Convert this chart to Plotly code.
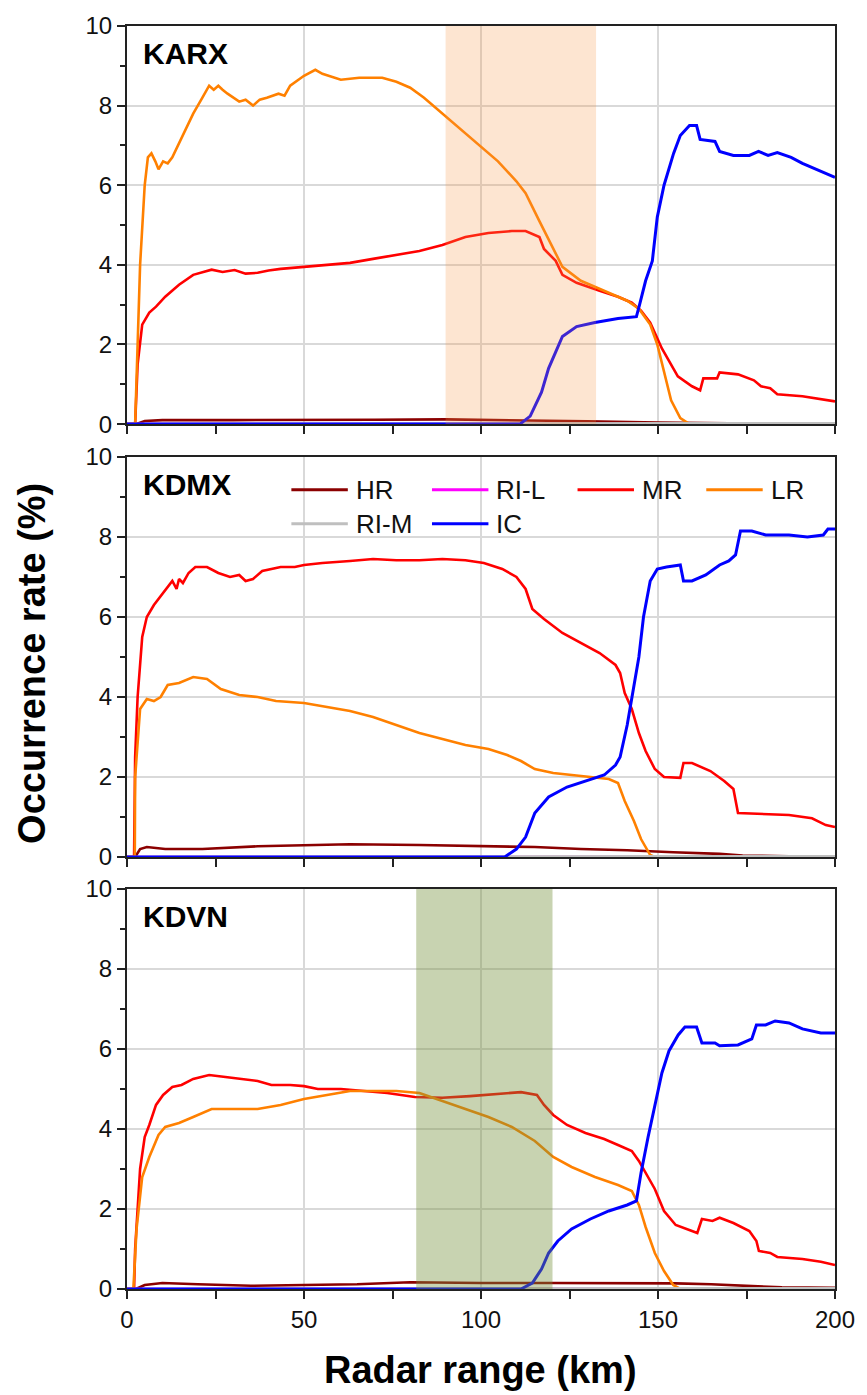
import plotly.graph_objects as go
from plotly.subplots import make_subplots

# ---------------- data: occurrence rate (%) vs radar range (km) ----------------
STATIONS = ["KARX", "KDMX", "KDVN"]

# KARX
KARX_HR_X = [0, 2.5, 5, 10, 30, 50, 70, 90, 110, 130, 150, 170, 200]
KARX_HR_Y = [0, 0, 0.08, 0.1, 0.1, 0.1, 0.11, 0.12, 0.1, 0.07, 0.04, 0.02, 0.01]
KARX_MR_X = [0, 2.3, 3.0, 4.3, 6.3, 8.2, 10.8, 14.7, 18.7, 21.0, 23.9, 27.0, 30.4, 33.5, 36.9, 40.0,
             43.4, 50.0, 56.5, 63.0, 69.5, 76.0, 82.6, 89.1, 95.6, 102.1, 108.7, 112.6, 116.5,
             117.8, 121.1, 123.0, 127.0, 133.5, 138.7, 142.6, 145.2, 147.8, 151.1, 155.6, 159.6,
             161.9, 162.8, 166.7, 167.4, 172.6, 177.1, 179.1, 181.7, 183.7, 190.8, 200]
KARX_MR_Y = [0, 0, 1.5, 2.5, 2.8, 2.95, 3.2, 3.5, 3.75, 3.8, 3.88, 3.82, 3.87, 3.78, 3.8, 3.86,
             3.9, 3.95, 4.0, 4.05, 4.15, 4.25, 4.35, 4.5, 4.7, 4.8, 4.85, 4.85, 4.7,
             4.4, 4.1, 3.75, 3.55, 3.35, 3.2, 3.05, 2.85, 2.55, 1.9, 1.2, 0.95,
             0.85, 1.15, 1.15, 1.3, 1.25, 1.1, 0.95, 0.9, 0.75, 0.7, 0.57]
KARX_LR_X = [0, 2.3, 3.7, 5.0, 5.9, 6.9, 8.0, 8.9, 10.2, 11.5, 12.8, 15.4, 18.7, 21.3, 23.2, 24.5,
             25.8, 27.0, 28.4, 31.7, 33.5, 35.6, 37.5, 39.5, 42.8, 44.5, 46.1, 50.0, 53.2, 55.2,
             60.4, 65.6, 72.1, 76.1, 80.0, 83.9, 89.1, 94.3, 99.5, 104.8, 110.0, 112.6, 116.5,
             120.4, 123.0, 128.2, 134.8, 141.3, 144.6, 147.8, 149.8, 151.7, 153.7, 156.3, 158.9, 200]
KARX_LR_Y = [0, 0, 4.0, 6.0, 6.7, 6.8, 6.6, 6.4, 6.6, 6.55, 6.7, 7.2, 7.8, 8.2, 8.5, 8.4,
             8.5, 8.4, 8.3, 8.1, 8.15, 8.0, 8.15, 8.2, 8.3, 8.25, 8.5, 8.75, 8.9, 8.8,
             8.65, 8.7, 8.7, 8.6, 8.45, 8.2, 7.8, 7.4, 7.0, 6.6, 6.1, 5.8, 5.1,
             4.4, 3.95, 3.6, 3.35, 3.1, 2.9, 2.5, 2.0, 1.3, 0.6, 0.15, 0, 0]
KARX_IC_X = [0, 111.0, 113.9, 117.1, 119.1, 121.1, 123.0, 127.0, 132.2, 138.7, 143.9, 144.8, 146.5,
             148.4, 149.8, 151.7, 154.4, 156.3, 158.9, 160.9, 161.9, 166.1, 167.4, 171.3, 175.8,
             178.4, 181.1, 183.7, 187.6, 190.8, 196.0, 200]
KARX_IC_Y = [0, 0, 0.2, 0.8, 1.4, 1.8, 2.2, 2.45, 2.55, 2.65, 2.7, 3.0, 3.6,
             4.1, 5.2, 6.0, 6.8, 7.25, 7.5, 7.5, 7.15, 7.1, 6.85, 6.75, 6.75,
             6.85, 6.75, 6.82, 6.7, 6.55, 6.35, 6.2]

# KDMX
KDMX_HR_X = [0, 2.3, 3.7, 5.6, 10.8, 21.3, 36.9, 50, 63, 82.6, 102.1, 115.2, 128.2, 141.3, 154.3,
             167.4, 173.9, 187, 200]
KDMX_HR_Y = [0, 0, 0.2, 0.25, 0.2, 0.2, 0.27, 0.3, 0.32, 0.3, 0.27, 0.25, 0.2, 0.17, 0.12,
             0.08, 0.04, 0.02, 0.02]
KDMX_MR_X = [0, 2.0, 2.3, 3.0, 4.3, 5.6, 7.6, 10.2, 12.8, 14.0, 14.7, 15.8, 17.4, 19.3, 22.6, 25.8,
             29.1, 31.7, 33.5, 35.6, 38.2, 43.4, 47.4, 50.0, 55.2, 63.0, 69.5, 76.1, 82.6, 89.1,
             95.6, 100.8, 106.0, 110.0, 112.6, 114.5, 117.8, 123.0, 128.2, 133.5, 138.0, 139.3,
             140.6, 142.6, 144.6, 146.5, 149.1, 151.7, 156.3, 157.2, 159.6, 164.8, 168.7, 171.3,
             172.6, 180.4, 187.0, 193.5, 197.4, 200]
KDMX_MR_Y = [0, 0, 2.5, 4.0, 5.5, 6.0, 6.3, 6.6, 6.9, 6.7, 6.95, 6.85, 7.1, 7.25, 7.25, 7.1,
             7.0, 7.05, 6.9, 6.95, 7.15, 7.25, 7.25, 7.3, 7.35, 7.4, 7.45, 7.42, 7.42, 7.45,
             7.42, 7.35, 7.2, 7.0, 6.7, 6.2, 5.95, 5.6, 5.35, 5.1, 4.8, 4.6,
             4.1, 3.7, 3.1, 2.65, 2.2, 2.0, 1.98, 2.35, 2.35, 2.15, 1.9, 1.7,
             1.1, 1.07, 1.05, 0.97, 0.8, 0.75]
KDMX_LR_X = [0, 2.2, 2.3, 3.7, 5.6, 7.6, 9.5, 11.5, 14.7, 18.7, 22.6, 26.5, 31.7, 36.9, 42.1, 50.0,
             56.5, 63.0, 69.5, 76.1, 82.6, 89.1, 95.6, 102.1, 107.4, 111.3, 115.2, 120.4, 125.6,
             130.9, 136.1, 138.7, 140.6, 143.2, 145.2, 147.8, 149.1, 200]
KDMX_LR_Y = [0, 0, 2.0, 3.7, 3.95, 3.9, 4.0, 4.3, 4.35, 4.5, 4.45, 4.2, 4.05, 4.0, 3.9, 3.85,
             3.75, 3.65, 3.5, 3.3, 3.1, 2.95, 2.8, 2.7, 2.55, 2.4, 2.2, 2.1, 2.05,
             2.0, 1.95, 1.85, 1.4, 0.9, 0.45, 0.05, 0, 0]
KDMX_IC_X = [0, 106.7, 110.0, 112.6, 115.2, 119.1, 124.3, 129.5, 134.8, 138.0, 139.3, 141.3, 142.6,
             144.6, 145.9, 147.8, 149.8, 152.4, 156.3, 157.2, 159.6, 163.5, 167.4, 170.0, 171.9,
             173.3, 176.5, 180.4, 187.0, 192.2, 196.7, 198.0, 200]
KDMX_IC_Y = [0, 0, 0.2, 0.5, 1.1, 1.5, 1.75, 1.9, 2.05, 2.3, 2.5, 3.3, 4.0,
             5.0, 6.0, 6.9, 7.2, 7.25, 7.3, 6.9, 6.9, 7.05, 7.3, 7.4, 7.55,
             8.15, 8.15, 8.05, 8.05, 8.0, 8.05, 8.2, 8.2]

# KDVN
KDVN_HR_X = [0, 2.5, 5, 10, 20, 35, 50, 65, 80, 100, 120, 140, 155, 165, 175, 185, 200]
KDVN_HR_Y = [0, 0, 0.1, 0.15, 0.12, 0.08, 0.1, 0.12, 0.17, 0.15, 0.15, 0.15, 0.14, 0.12, 0.08, 0.04, 0.03]
KDVN_MR_X = [0, 2.0, 2.3, 3.7, 5.0, 6.3, 8.2, 10.2, 12.8, 15.4, 18.7, 23.2, 27.8, 31.7, 36.9, 40.8,
             46.1, 50.0, 53.9, 60.4, 66.9, 73.5, 81.3, 89.1, 96.9, 104.8, 111.3, 115.8, 117.8,
             120.4, 124.3, 129.5, 134.8, 138.7, 142.6, 144.6, 146.5, 149.1, 151.7, 155.0, 159.6,
             161.1, 162.4, 165.4, 167.4, 171.3, 175.8, 177.8, 178.5, 181.7, 183.7, 190.8, 196.0, 200]
KDVN_MR_Y = [0, 0, 1.0, 3.0, 3.8, 4.1, 4.6, 4.85, 5.05, 5.1, 5.25, 5.35, 5.3, 5.25, 5.2, 5.1,
             5.1, 5.07, 5.0, 5.0, 4.95, 4.9, 4.8, 4.78, 4.82, 4.87, 4.92, 4.85, 4.6,
             4.35, 4.1, 3.9, 3.75, 3.6, 3.45, 3.2, 2.9, 2.5, 1.95, 1.6, 1.45,
             1.4, 1.75, 1.7, 1.78, 1.65, 1.45, 1.2, 0.95, 0.9, 0.8, 0.75, 0.68, 0.6]
KDVN_LR_X = [0, 1.8, 2.7, 4.3, 6.3, 8.9, 10.8, 14.7, 18.7, 23.9, 30.4, 36.9, 43.4, 50.0, 56.5,
             63.0, 69.5, 76.1, 82.6, 89.1, 95.6, 102.1, 108.7, 115.2, 120.4, 125.6, 132.2, 138.7,
             142.6, 144.6, 146.5, 149.1, 151.7, 154.3, 156.3, 200]
KDVN_LR_Y = [0, 0, 1.5, 2.8, 3.3, 3.85, 4.05, 4.15, 4.3, 4.5, 4.5, 4.5, 4.6, 4.75, 4.85,
             4.95, 4.95, 4.95, 4.9, 4.7, 4.5, 4.3, 4.05, 3.7, 3.3, 3.05, 2.8, 2.6,
             2.45, 2.1, 1.55, 0.9, 0.45, 0.1, 0, 0]
KDVN_IC_X = [0, 111.3, 114.5, 117.1, 119.1, 121.7, 125.6, 130.9, 136.1, 141.3, 143.9, 145.2, 147.2,
             149.1, 151.1, 153.1, 155.7, 157.6, 160.9, 162.4, 166.1, 167.4, 172.6, 176.5, 177.8,
             180.4, 183.1, 187.0, 190.8, 196.0, 200]
KDVN_IC_Y = [0, 0, 0.15, 0.5, 0.9, 1.2, 1.5, 1.75, 1.95, 2.1, 2.2, 2.9, 3.8,
             4.6, 5.4, 5.95, 6.35, 6.55, 6.55, 6.15, 6.15, 6.08, 6.1, 6.25, 6.6,
             6.6, 6.7, 6.65, 6.5, 6.4, 6.4]

# rain-on-ice classes stay near zero at every station
RI_X = [0, 50, 100, 150, 200]
RI_L_Y = [0, 0.005, 0.005, 0.005, 0.005]
RI_M_Y = [0, 0.01, 0.01, 0.02, 0.02]

SERIES = {
    "KARX": {"HR": (KARX_HR_X, KARX_HR_Y), "MR": (KARX_MR_X, KARX_MR_Y),
             "LR": (KARX_LR_X, KARX_LR_Y), "IC": (KARX_IC_X, KARX_IC_Y)},
    "KDMX": {"HR": (KDMX_HR_X, KDMX_HR_Y), "MR": (KDMX_MR_X, KDMX_MR_Y),
             "LR": (KDMX_LR_X, KDMX_LR_Y), "IC": (KDMX_IC_X, KDMX_IC_Y)},
    "KDVN": {"HR": (KDVN_HR_X, KDVN_HR_Y), "MR": (KDVN_MR_X, KDVN_MR_Y),
             "LR": (KDVN_LR_X, KDVN_LR_Y), "IC": (KDVN_IC_X, KDVN_IC_Y)},
}

# highlighted range bands (km)
BANDS = {"KARX": (90.0, 132.5, "rgba(247,150,70,0.25)"),
         "KDVN": (81.7, 120.2, "rgba(118,146,60,0.40)")}

COLORS = {"HR": "#8B0000", "RI-L": "#FF00FF", "MR": "#FF0000", "LR": "#FF8000",
          "RI-M": "#BFBFBF", "IC": "#0000FF"}

# ---------------- layout geometry ----------------
W, H = 867, 1395
L, R, T, B = 127, 25, 20, 106
PLOT_W = W - L - R
PLOT_H = H - T - B


def px_x(px):
    return (px - L) / PLOT_W


def px_y(py):
    return (H - B - py) / PLOT_H


FONT = "Liberation Sans, Arial, sans-serif"

fig = make_subplots(rows=3, cols=1, shared_xaxes=False, vertical_spacing=0.025)

# panel extents in pixel rows (top, bottom)
panel_px = [(20, 420), (453, 855), (887, 1289)]

for i, st in enumerate(STATIONS, start=1):
    data = SERIES[st]
    for cls in ["HR", "RI-L", "MR", "LR", "RI-M", "IC"]:
        if cls == "RI-L":
            xs, ys = RI_X, RI_L_Y
        elif cls == "RI-M":
            xs, ys = RI_X, RI_M_Y
        else:
            xs, ys = data[cls]
        fig.add_trace(go.Scatter(x=xs, y=ys, mode="lines", name=cls, showlegend=False,
                                 line=dict(color=COLORS[cls], width=2.6 if cls != "IC" else 3.0)),
                      row=i, col=1)
    if st in BANDS:
        x0, x1, col = BANDS[st]
        fig.add_vrect(x0=x0, x1=x1, fillcolor=col, line_width=0, layer="above", row=i, col=1)

for i, (top, bot) in enumerate(panel_px, start=1):
    yname = "yaxis" if i == 1 else f"yaxis{i}"
    fig.layout[yname].domain = [px_y(bot), px_y(top)]
    fig.update_yaxes(range=[0, 10], tickvals=[0, 2, 4, 6, 8, 10], ticks="outside", ticklen=8,
                     tickwidth=2, tickcolor="#222", showline=True, linecolor="#222", linewidth=2,
                     mirror=True, showgrid=True, gridcolor="#d9d9d9", gridwidth=1.5,
                     zeroline=False, tickfont=dict(family=FONT, size=24, color="#111"),
                     minor=dict(dtick=1, ticks="outside", ticklen=5, tickwidth=1.5,
                                tickcolor="#222", showgrid=False),
                     row=i, col=1)
    fig.update_xaxes(range=[0, 200], tickvals=[0, 50, 100, 150, 200], ticks="outside", ticklen=8,
                     tickwidth=2, tickcolor="#222", showline=True, linecolor="#222", linewidth=2,
                     mirror=True, showgrid=True, gridcolor="#d9d9d9", gridwidth=1.5,
                     zeroline=False, showticklabels=(i == 3),
                     tickfont=dict(family=FONT, size=24, color="#111"),
                     minor=dict(tickvals=[25, 75, 125, 175], ticks="outside", ticklen=8,
                                tickwidth=2, tickcolor="#222", showgrid=False),
                     row=i, col=1)

annotations = []
# station labels
for st, (top, bot) in zip(STATIONS, panel_px):
    annotations.append(dict(text=f"<b>{st}</b>", x=px_x(141), y=px_y(top + 9),
                            xref="paper", yref="paper", xanchor="left", yanchor="top",
                            showarrow=False, font=dict(family=FONT, size=30, color="#000")))

# axis titles
annotations.append(dict(text="<b>Occurrence rate (%)</b>", x=px_x(31), y=px_y(660),
                        xref="paper", yref="paper", xanchor="center", yanchor="middle",
                        textangle=-90, showarrow=False,
                        font=dict(family=FONT, size=38, color="#000")))
annotations.append(dict(text="<b>Radar range (km)</b>", x=px_x(484), y=px_y(1370),
                        xref="paper", yref="paper", xanchor="center", yanchor="middle",
                        showarrow=False, font=dict(family=FONT, size=38, color="#000")))

# legend drawn inside the KDMX panel
shapes = []
legend_rows = [(486, [("HR", 293), ("RI-L", 435), ("MR", 582), ("LR", 712)]),
               (520, [("RI-M", 293), ("IC", 435)])]
for py, items in legend_rows:
    for cls, x0 in items:
        shapes.append(dict(type="line", xref="paper", yref="paper",
                           x0=px_x(x0), x1=px_x(x0 + 57), y0=px_y(py), y1=px_y(py),
                           line=dict(color=COLORS[cls], width=3)))
        annotations.append(dict(text=cls, x=px_x(x0 + 63), y=px_y(py), xref="paper", yref="paper",
                                xanchor="left", yanchor="middle", showarrow=False,
                                font=dict(family=FONT, size=26, color="#111")))

fig.update_layout(width=W, height=H, margin=dict(l=L, r=R, t=T, b=B),
                  plot_bgcolor="white", paper_bgcolor="white", showlegend=False,
                  annotations=annotations)
for s in shapes:
    fig.add_shape(**s)

fig.write_html("out.html")
